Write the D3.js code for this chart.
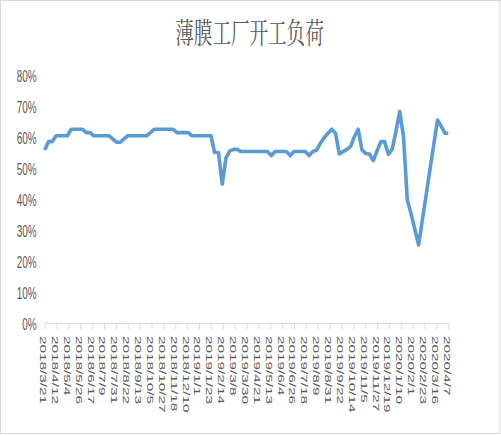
<!DOCTYPE html>
<html>
<head>
<meta charset="utf-8">
<script src="https://cdn.jsdelivr.net/npm/d3@7"></script>
<style>
  html, body { margin: 0; padding: 0; background: #ffffff; }
  svg { display: block; }
</style>
</head>
<body>
<svg id="chart" width="501" height="436"></svg>
<script>
// Weekly film-plant operating rate (%)
const dates = [
  "2018-03-21","2018-03-28","2018-04-04","2018-04-11","2018-04-18","2018-04-25","2018-05-02","2018-05-09",
  "2018-05-16","2018-05-23","2018-05-30","2018-06-06","2018-06-13","2018-06-20","2018-06-27","2018-07-04",
  "2018-07-11","2018-07-18","2018-07-25","2018-08-01","2018-08-08","2018-08-15","2018-08-22","2018-08-29",
  "2018-09-05","2018-09-12","2018-09-19","2018-09-26","2018-10-03","2018-10-10","2018-10-17","2018-10-24",
  "2018-10-31","2018-11-07","2018-11-14","2018-11-21","2018-11-28","2018-12-05","2018-12-12","2018-12-19",
  "2018-12-26","2019-01-02","2019-01-09","2019-01-16","2019-01-23","2019-01-30","2019-02-06","2019-02-13",
  "2019-02-20","2019-02-27","2019-03-06","2019-03-13","2019-03-20","2019-03-27","2019-04-03","2019-04-10",
  "2019-04-17","2019-04-24","2019-05-01","2019-05-08","2019-05-15","2019-05-22","2019-05-29","2019-06-05",
  "2019-06-12","2019-06-19","2019-06-26","2019-07-03","2019-07-10","2019-07-17","2019-07-24","2019-07-31",
  "2019-08-07","2019-08-14","2019-08-21","2019-08-28","2019-09-04","2019-09-11","2019-09-18","2019-09-25",
  "2019-10-02","2019-10-09","2019-10-16","2019-10-23","2019-10-30","2019-11-06","2019-11-13","2019-11-20",
  "2019-11-27","2019-12-04","2019-12-11","2019-12-18","2019-12-25","2020-01-01","2020-01-08","2020-01-15",
  "2020-01-22","2020-01-29","2020-02-05","2020-02-12","2020-02-19","2020-02-26","2020-03-04","2020-03-11",
  "2020-03-18","2020-03-25","2020-04-01","2020-04-07"
];

const loadRate = [
  55.8, 58.5, 58.5, 60.4, 60.4, 60.4, 60.4, 62.5,
  62.5, 62.5, 62.5, 61.4, 61.4, 60.4, 60.4, 60.4,
  60.4, 60.4, 59.4, 58.3, 58.3, 59.4, 60.4, 60.4,
  60.4, 60.4, 60.4, 60.4, 61.4, 62.5, 62.5, 62.5,
  62.5, 62.5, 62.5, 61.4, 61.4, 61.4, 61.4, 60.4,
  60.4, 60.4, 60.4, 60.4, 60.4, 55.0, 55.0, 44.8,
  53.3, 55.5, 56.0, 56.0, 55.3, 55.3, 55.3, 55.3,
  55.3, 55.3, 55.3, 55.3, 54.0, 55.3, 55.3, 55.3,
  55.3, 54.0, 55.3, 55.3, 55.3, 55.3, 54.0, 55.3,
  55.8, 58.0, 59.8, 61.2, 62.5, 61.2, 54.5, 55.3,
  56.0, 57.0, 60.1, 62.5, 55.8, 54.7, 54.5, 52.4,
  55.5, 58.5, 58.5, 54.4, 56.0, 61.9, 68.2, 60.1,
  39.7, 35.2, 30.2, 25.2, 33.3, 41.4, 49.5, 57.5,
  65.5, 63.4, 61.2, 61.2
];

// Date-axis labels, one every 22 days
const xTickLabels = [
  "2018/3/21","2018/4/12","2018/5/4","2018/5/26","2018/6/17","2018/7/9","2018/7/31",
  "2018/8/22","2018/9/13","2018/10/5","2018/10/27","2018/11/18","2018/12/10","2019/1/1",
  "2019/1/23","2019/2/14","2019/3/8","2019/3/30","2019/4/21","2019/5/13","2019/6/4",
  "2019/6/26","2019/7/18","2019/8/9","2019/8/31","2019/9/22","2019/10/14","2019/11/5",
  "2019/11/27","2019/12/19","2020/1/10","2020/2/1","2020/2/23","2020/3/16","2020/4/7"
];
const yTicks = [0, 10, 20, 30, 40, 50, 60, 70, 80];

const title = "薄膜工厂开工负荷";

const parseIso = d3.utcParse("%Y-%m-%d");
const parseLabel = d3.utcParse("%Y/%m/%d");
const points = dates.map((d, i) => ({ date: parseIso(d), value: loadRate[i] }));
const tickDates = xTickLabels.map(parseLabel);

const svg = d3.select("#chart");
const textColor = "#595959";
const axisColor = "#d9d9d9";
const squeeze = 0.62; // horizontal glyph compression used by every label

// chart frame
svg.append("rect")
  .attr("x", 0.5).attr("y", 0.5)
  .attr("width", 499.5).attr("height", 433)
  .attr("fill", "#ffffff")
  .attr("stroke", axisColor)
  .attr("stroke-width", 1);

const x = d3.scaleUtc()
  .domain([tickDates[0], tickDates[tickDates.length - 1]])
  .range([44.7, 448.3]);

const y = d3.scaleLinear()
  .domain([0, 80])
  .range([323, 75]);

// title
svg.append("text")
  .attr("transform", "translate(249.5,31.5) scale(0.64,1)")
  .attr("text-anchor", "middle")
  .attr("dominant-baseline", "central")
  .attr("font-family", "'Noto Serif CJK SC','Noto Sans CJK SC',sans-serif")
  .attr("font-size", 29)
  .attr("fill", textColor)
  .text(title);

// y axis (labels only)
const yAxis = svg.append("g")
  .attr("transform", "translate(36.5,0)")
  .call(d3.axisLeft(y).tickValues(yTicks).tickSize(0).tickPadding(0)
    .tickFormat(d => d + "%"));
yAxis.select(".domain").remove();
yAxis.selectAll("text")
  .attr("x", 0)
  .attr("dy", null)
  .attr("y", 1.3)
  .attr("dominant-baseline", "central")
  .attr("transform", `scale(${squeeze},1)`)
  .attr("font-family", "'Liberation Sans', Arial, sans-serif")
  .attr("font-size", 16)
  .attr("fill", textColor);

// x axis
const xAxis = svg.append("g")
  .attr("transform", "translate(0,323)")
  .call(d3.axisBottom(x).tickValues(tickDates).tickSize(6).tickSizeOuter(0)
    .tickFormat((d, i) => xTickLabels[i]));
xAxis.select(".domain").attr("stroke", axisColor);
xAxis.selectAll(".tick line").attr("stroke", axisColor);
xAxis.selectAll("text")
  .attr("x", 0).attr("y", 0).attr("dy", null)
  .attr("text-anchor", "start")
  .attr("dominant-baseline", "central")
  .attr("transform", `translate(-1.7,13) rotate(90) scale(1,${squeeze})`)
  .attr("font-family", "'Liberation Sans', Arial, sans-serif")
  .attr("font-size", 15.3)
  .attr("fill", textColor);

// series line
const line = d3.line()
  .x(d => x(d.date))
  .y(d => y(d.value));

svg.append("path")
  .datum(points)
  .attr("d", line)
  .attr("fill", "none")
  .attr("stroke", "#5b9bd5")
  .attr("stroke-width", 3.6)
  .attr("stroke-linejoin", "round")
  .attr("stroke-linecap", "butt");
</script>
</body>
</html>
